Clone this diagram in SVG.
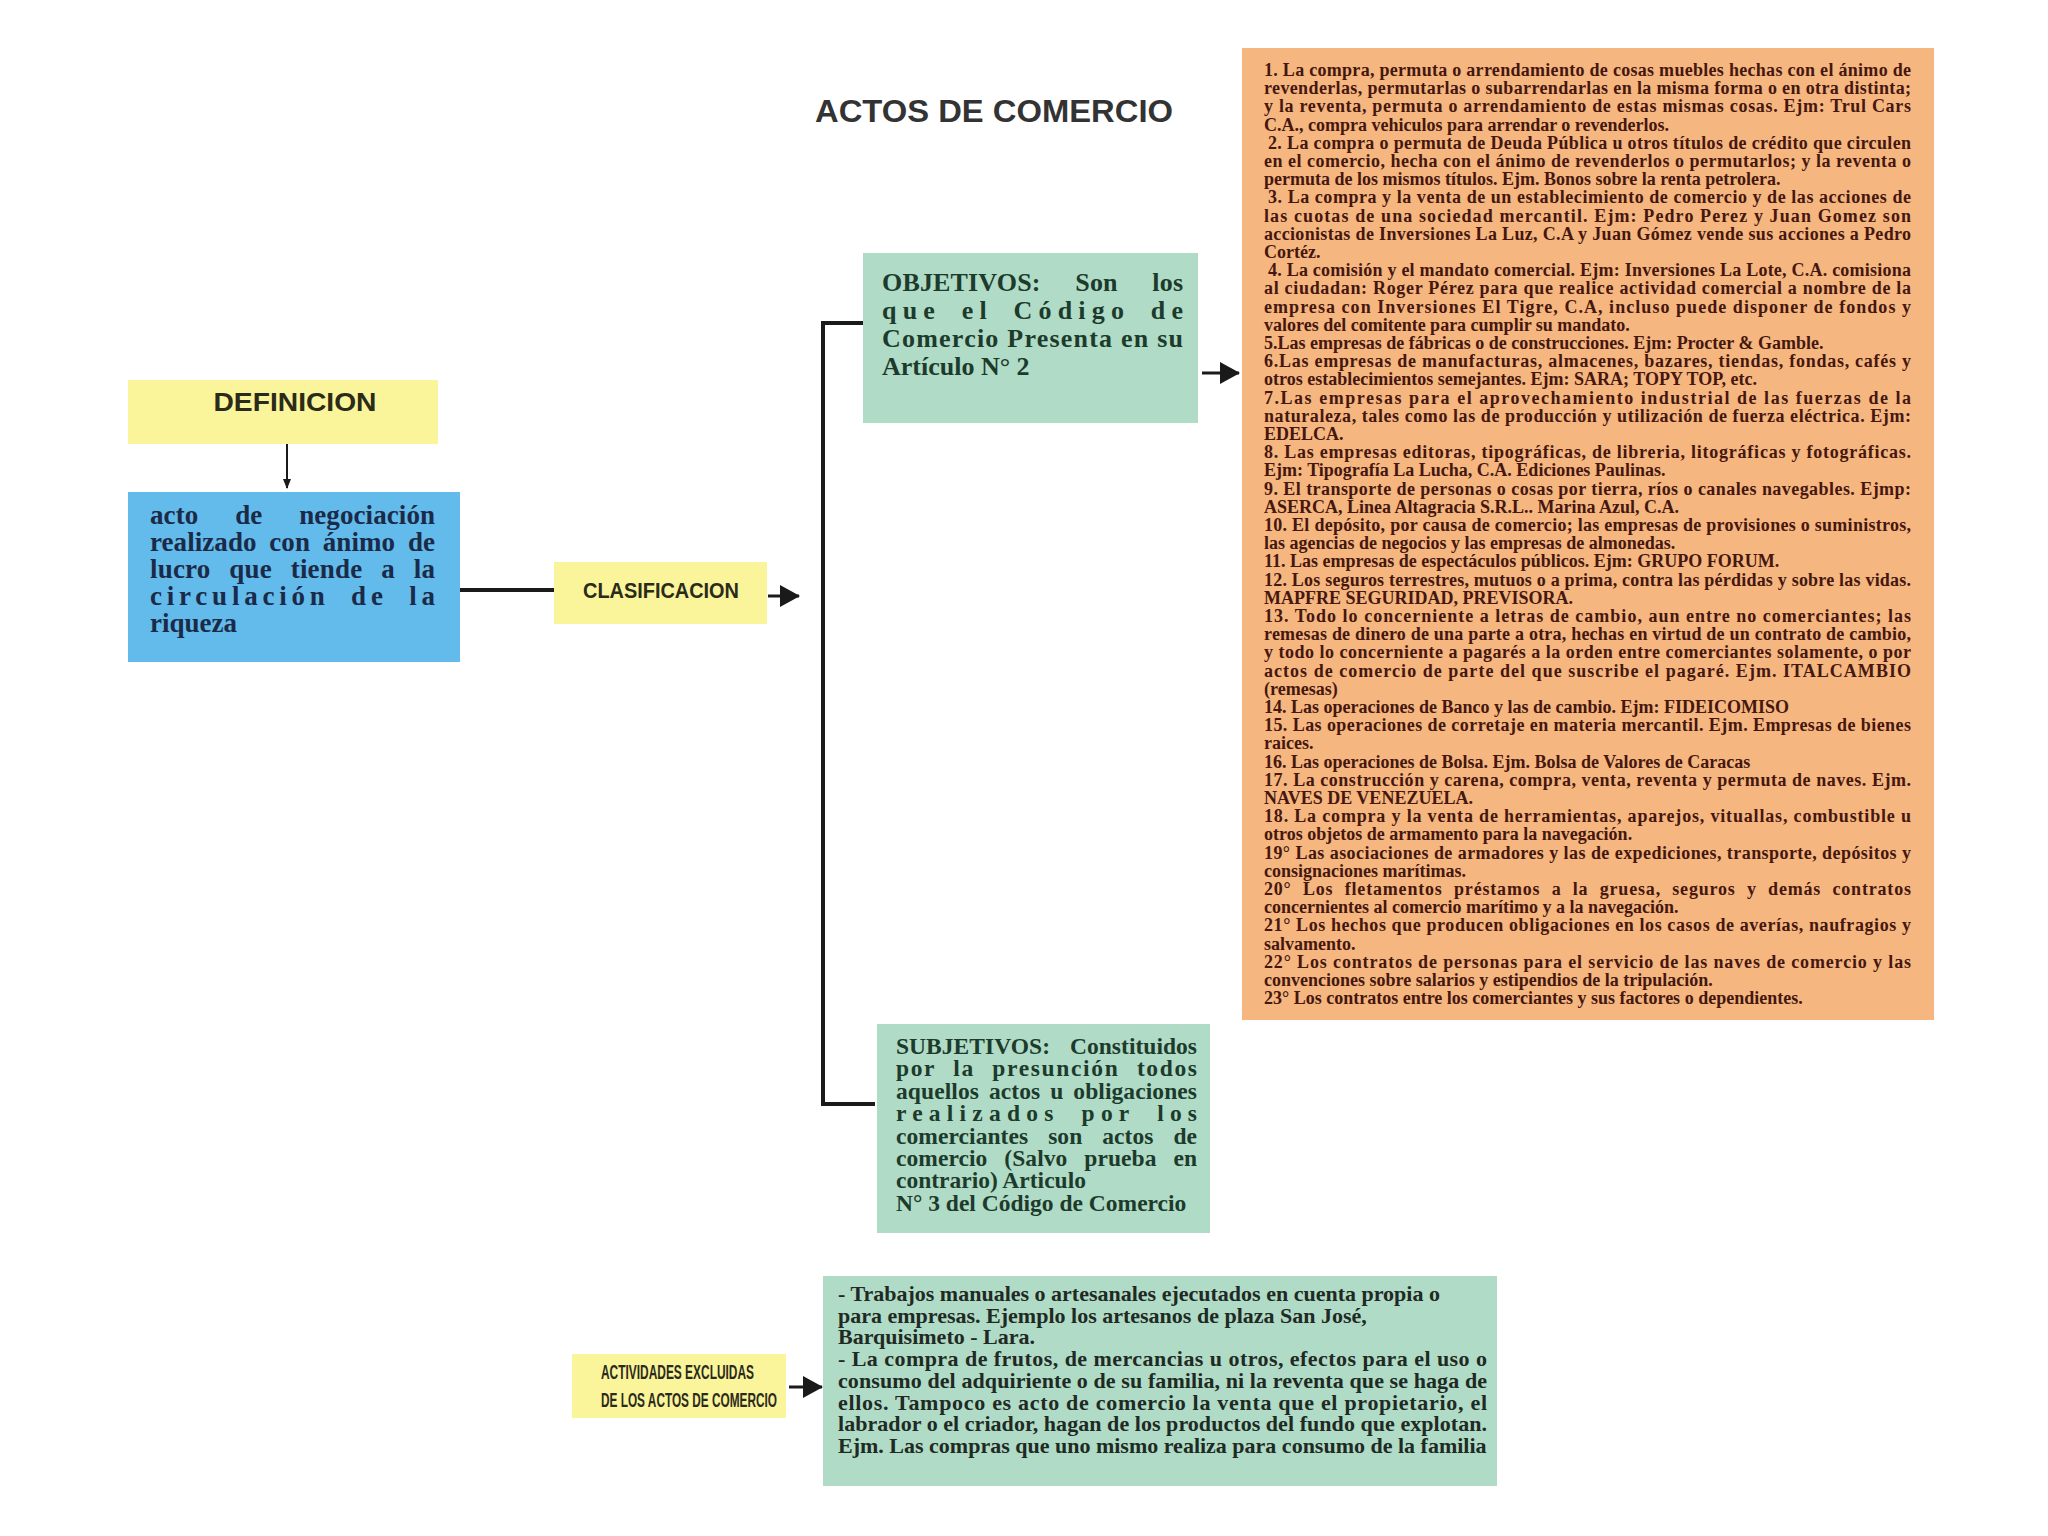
<svg xmlns="http://www.w3.org/2000/svg" width="2048" height="1536" viewBox="0 0 2048 1536">
<defs>
<style>
.sans{font-family:"Liberation Sans",Arial,sans-serif;font-weight:bold}
.serif{font-family:"Liberation Serif","Times New Roman",serif;font-weight:bold}
.ot{font-size:18px;fill:#45170f}
.bt{font-size:27px;fill:#1b2a48}
.gt{font-size:26px;fill:#1d3b2c}
.st{font-size:23.5px;fill:#1d3b2c}
.et{font-size:22px;fill:#1f2a24}
.yel{fill:#faf49b}
.grn{fill:#b0dbc6}
.conn{stroke:#1a1a1a;fill:none}
</style>
<marker id="ah" viewBox="0 0 20 22" refX="19" refY="11" markerWidth="20" markerHeight="22" markerUnits="userSpaceOnUse" orient="auto"><path d="M0,0 L20,11 L0,22 z" fill="#1a1a1a"/></marker>
</defs>
<rect width="2048" height="1536" fill="#ffffff"/>

<g id="title">
<text class="sans" x="815" y="122" font-size="32" fill="#333333" textLength="358" lengthAdjust="spacingAndGlyphs">ACTOS DE COMERCIO</text>
</g>

<g id="connectors">
<line class="conn" x1="287" y1="444" x2="287" y2="488" stroke-width="2"/>
<path d="M283,479 L291,479 L287,489 z" fill="#1a1a1a"/>
<line class="conn" x1="460" y1="590" x2="554" y2="590" stroke-width="4"/>
<line class="conn" x1="768" y1="596" x2="799" y2="596" stroke-width="3" marker-end="url(#ah)"/>
<path class="conn" d="M863,323 H823 V1104 H875" stroke-width="4"/>
<line class="conn" x1="1202" y1="373" x2="1239" y2="373" stroke-width="3" marker-end="url(#ah)"/>
<line class="conn" x1="789" y1="1387" x2="822" y2="1387" stroke-width="3" marker-end="url(#ah)"/>
</g>

<g id="definicion">
<rect class="yel" x="128" y="380" width="310" height="64"/>
<text class="sans" x="295" y="411" font-size="26" fill="#2b2b1a" text-anchor="middle" textLength="163" lengthAdjust="spacingAndGlyphs">DEFINICION</text>
</g>

<g id="definicion-texto">
<rect x="128" y="492" width="332" height="170" fill="#62bbea"/>
<text class="serif bt" x="150" y="524" word-spacing="30" textLength="285" lengthAdjust="spacing">acto de negociación</text>
<text class="serif bt" x="150" y="551" word-spacing="6" textLength="285" lengthAdjust="spacing">realizado con ánimo de</text>
<text class="serif bt" x="150" y="578" word-spacing="12" textLength="285" lengthAdjust="spacing">lucro que tiende a la</text>
<text class="serif bt" x="150" y="605" word-spacing="10" textLength="285" lengthAdjust="spacing">circulación de la</text>
<text class="serif bt" x="150" y="632">riqueza</text>
</g>

<g id="clasificacion">
<rect class="yel" x="554" y="562" width="213" height="62"/>
<text class="sans" x="661" y="598" font-size="22" fill="#2b2b1a" text-anchor="middle" textLength="156" lengthAdjust="spacingAndGlyphs">CLASIFICACION</text>
</g>

<g id="objetivos">
<rect class="grn" x="863" y="253" width="335" height="170"/>
<text class="serif gt" x="882" y="291" word-spacing="28" textLength="301" lengthAdjust="spacing">OBJETIVOS: Son los</text>
<text class="serif gt" x="882" y="319" word-spacing="8" textLength="301" lengthAdjust="spacing">que el Código de</text>
<text class="serif gt" x="882" y="347" textLength="301" lengthAdjust="spacing">Comercio Presenta en su</text>
<text class="serif gt" x="882" y="375">Artículo N° 2</text>
</g>

<g id="subjetivos">
<rect class="grn" x="877" y="1024" width="333" height="209"/>
<text class="serif st" x="896" y="1054" word-spacing="14" textLength="301" lengthAdjust="spacing">SUBJETIVOS: Constituidos</text>
<text class="serif st" x="896" y="1076.4" word-spacing="10" textLength="301" lengthAdjust="spacing">por la presunción todos</text>
<text class="serif st" x="896" y="1098.8" word-spacing="4" textLength="301" lengthAdjust="spacing">aquellos actos u obligaciones</text>
<text class="serif st" x="896" y="1121.2" word-spacing="10" textLength="301" lengthAdjust="spacing">realizados por los</text>
<text class="serif st" x="896" y="1143.6" word-spacing="14" textLength="301" lengthAdjust="spacing">comerciantes son actos de</text>
<text class="serif st" x="896" y="1166" word-spacing="11" textLength="301" lengthAdjust="spacing">comercio (Salvo prueba en</text>
<text class="serif st" x="896" y="1188.4">contrario) Articulo</text>
<text class="serif st" x="896" y="1210.8">N° 3 del Código de Comercio</text>
</g>

<g id="objetivos-lista">
<rect x="1242" y="48" width="692" height="972" fill="#f5b67f"/>
<text class="serif ot" x="1264" y="76" textLength="647" lengthAdjust="spacing">1. La compra, permuta o arrendamiento de cosas muebles hechas con el ánimo de</text>
<text class="serif ot" x="1264" y="94.2" textLength="647" lengthAdjust="spacing">revenderlas, permutarlas o subarrendarlas en la misma forma o en otra distinta;</text>
<text class="serif ot" x="1264" y="112.4" textLength="647" lengthAdjust="spacing">y la reventa, permuta o arrendamiento de estas mismas cosas. Ejm: Trul Cars</text>
<text class="serif ot" x="1264" y="130.6">C.A., compra vehiculos para arrendar o revenderlos.</text>
<text class="serif ot" x="1268" y="148.8" textLength="643" lengthAdjust="spacing">2. La compra o permuta de Deuda Pública u otros títulos de crédito que circulen</text>
<text class="serif ot" x="1264" y="167" textLength="647" lengthAdjust="spacing">en el comercio, hecha con el ánimo de revenderlos o permutarlos; y la reventa o</text>
<text class="serif ot" x="1264" y="185.2">permuta de los mismos títulos. Ejm. Bonos sobre la renta petrolera.</text>
<text class="serif ot" x="1268" y="203.4" textLength="643" lengthAdjust="spacing">3. La compra y la venta de un establecimiento de comercio y de las acciones de</text>
<text class="serif ot" x="1264" y="221.6" textLength="647" lengthAdjust="spacing">las cuotas de una sociedad mercantil. Ejm: Pedro Perez y Juan Gomez son</text>
<text class="serif ot" x="1264" y="239.8" textLength="647" lengthAdjust="spacing">accionistas de Inversiones La Luz, C.A y Juan Gómez vende sus acciones a Pedro</text>
<text class="serif ot" x="1264" y="258">Cortéz.</text>
<text class="serif ot" x="1268" y="276.2" textLength="643" lengthAdjust="spacing">4. La comisión y el mandato comercial. Ejm: Inversiones La Lote, C.A. comisiona</text>
<text class="serif ot" x="1264" y="294.4" textLength="647" lengthAdjust="spacing">al ciudadan: Roger Pérez para que realice actividad comercial a nombre de la</text>
<text class="serif ot" x="1264" y="312.6" textLength="647" lengthAdjust="spacing">empresa con Inversiones El Tigre, C.A, incluso puede disponer de fondos y</text>
<text class="serif ot" x="1264" y="330.8">valores del comitente para cumplir su mandato.</text>
<text class="serif ot" x="1264" y="349">5.Las empresas de fábricas o de construcciones. Ejm: Procter &amp; Gamble.</text>
<text class="serif ot" x="1264" y="367.2" textLength="647" lengthAdjust="spacing">6.Las empresas de manufacturas, almacenes, bazares, tiendas, fondas, cafés y</text>
<text class="serif ot" x="1264" y="385.4">otros establecimientos semejantes. Ejm: SARA; TOPY TOP, etc.</text>
<text class="serif ot" x="1264" y="403.6" textLength="647" lengthAdjust="spacing">7.Las empresas para el aprovechamiento industrial de las fuerzas de la</text>
<text class="serif ot" x="1264" y="421.8" textLength="647" lengthAdjust="spacing">naturaleza, tales como las de producción y utilización de fuerza eléctrica. Ejm:</text>
<text class="serif ot" x="1264" y="440">EDELCA.</text>
<text class="serif ot" x="1264" y="458.2" textLength="647" lengthAdjust="spacing">8. Las empresas editoras, tipográficas, de libreria, litográficas y fotográficas.</text>
<text class="serif ot" x="1264" y="476.4">Ejm: Tipografía La Lucha, C.A. Ediciones Paulinas.</text>
<text class="serif ot" x="1264" y="494.6" textLength="647" lengthAdjust="spacing">9. El transporte de personas o cosas por tierra, ríos o canales navegables. Ejmp:</text>
<text class="serif ot" x="1264" y="512.8">ASERCA, Linea Altagracia S.R.L.. Marina Azul, C.A.</text>
<text class="serif ot" x="1264" y="531" textLength="647" lengthAdjust="spacing">10. El depósito, por causa de comercio; las empresas de provisiones o suministros,</text>
<text class="serif ot" x="1264" y="549.2">las agencias de negocios y las empresas de almonedas.</text>
<text class="serif ot" x="1264" y="567.4">11. Las empresas de espectáculos públicos. Ejm: GRUPO FORUM.</text>
<text class="serif ot" x="1264" y="585.6" textLength="647" lengthAdjust="spacing">12. Los seguros terrestres, mutuos o a prima, contra las pérdidas y sobre las vidas.</text>
<text class="serif ot" x="1264" y="603.8">MAPFRE SEGURIDAD, PREVISORA.</text>
<text class="serif ot" x="1264" y="622" textLength="647" lengthAdjust="spacing">13. Todo lo concerniente a letras de cambio, aun entre no comerciantes; las</text>
<text class="serif ot" x="1264" y="640.2" textLength="647" lengthAdjust="spacing">remesas de dinero de una parte a otra, hechas en virtud de un contrato de cambio,</text>
<text class="serif ot" x="1264" y="658.4" textLength="647" lengthAdjust="spacing">y todo lo concerniente a pagarés a la orden entre comerciantes solamente, o por</text>
<text class="serif ot" x="1264" y="676.6" textLength="647" lengthAdjust="spacing">actos de comercio de parte del que suscribe el pagaré. Ejm. ITALCAMBIO</text>
<text class="serif ot" x="1264" y="694.8">(remesas)</text>
<text class="serif ot" x="1264" y="713">14. Las operaciones de Banco y las de cambio. Ejm: FIDEICOMISO</text>
<text class="serif ot" x="1264" y="731.2" textLength="647" lengthAdjust="spacing">15. Las operaciones de corretaje en materia mercantil. Ejm. Empresas de bienes</text>
<text class="serif ot" x="1264" y="749.4">raices.</text>
<text class="serif ot" x="1264" y="767.6">16. Las operaciones de Bolsa. Ejm. Bolsa de Valores de Caracas</text>
<text class="serif ot" x="1264" y="785.8" textLength="647" lengthAdjust="spacing">17. La construcción y carena, compra, venta, reventa y permuta de naves. Ejm.</text>
<text class="serif ot" x="1264" y="804">NAVES DE VENEZUELA.</text>
<text class="serif ot" x="1264" y="822.2" textLength="647" lengthAdjust="spacing">18. La compra y la venta de herramientas, aparejos, vituallas, combustible u</text>
<text class="serif ot" x="1264" y="840.4">otros objetos de armamento para la navegación.</text>
<text class="serif ot" x="1264" y="858.6" textLength="647" lengthAdjust="spacing">19° Las asociaciones de armadores y las de expediciones, transporte, depósitos y</text>
<text class="serif ot" x="1264" y="876.8">consignaciones marítimas.</text>
<text class="serif ot" x="1264" y="895" word-spacing="6" textLength="647" lengthAdjust="spacing">20° Los fletamentos préstamos a la gruesa, seguros y demás contratos</text>
<text class="serif ot" x="1264" y="913.2">concernientes al comercio marítimo y a la navegación.</text>
<text class="serif ot" x="1264" y="931.4" textLength="647" lengthAdjust="spacing">21° Los hechos que producen obligaciones en los casos de averías, naufragios y</text>
<text class="serif ot" x="1264" y="949.6">salvamento.</text>
<text class="serif ot" x="1264" y="967.8" textLength="647" lengthAdjust="spacing">22° Los contratos de personas para el servicio de las naves de comercio y las</text>
<text class="serif ot" x="1264" y="986">convenciones sobre salarios y estipendios de la tripulación.</text>
<text class="serif ot" x="1264" y="1004.2">23° Los contratos entre los comerciantes y sus factores o dependientes.</text>
</g>

<g id="actividades-excluidas">
<rect class="yel" x="572" y="1354" width="214" height="64"/>
<text class="sans" x="601" y="1379" font-size="21" fill="#2b2b1a" textLength="153" lengthAdjust="spacingAndGlyphs">ACTIVIDADES EXCLUIDAS</text>
<text class="sans" x="601" y="1407" font-size="21" fill="#2b2b1a" textLength="176" lengthAdjust="spacingAndGlyphs">DE LOS ACTOS DE COMERCIO</text>
</g>

<g id="excluidas-texto">
<rect class="grn" x="823" y="1276" width="674" height="210"/>
<text class="serif et" x="838" y="1301">- Trabajos manuales o artesanales ejecutados en cuenta propia o</text>
<text class="serif et" x="838" y="1322.7">para empresas. Ejemplo los artesanos de plaza San José,</text>
<text class="serif et" x="838" y="1344.4">Barquisimeto - Lara.</text>
<text class="serif et" x="838" y="1366.1" textLength="649" lengthAdjust="spacing">- La compra de frutos, de mercancias u otros, efectos para el uso o</text>
<text class="serif et" x="838" y="1387.8" textLength="649" lengthAdjust="spacing">consumo del adquiriente o de su familia, ni la reventa que se haga de</text>
<text class="serif et" x="838" y="1409.5" textLength="649" lengthAdjust="spacing">ellos. Tampoco es acto de comercio la venta que el propietario, el</text>
<text class="serif et" x="838" y="1431.2" textLength="649" lengthAdjust="spacing">labrador o el criador, hagan de los productos del fundo que explotan.</text>
<text class="serif et" x="838" y="1452.9">Ejm. Las compras que uno mismo realiza para consumo de la familia</text>
</g>
</svg>
